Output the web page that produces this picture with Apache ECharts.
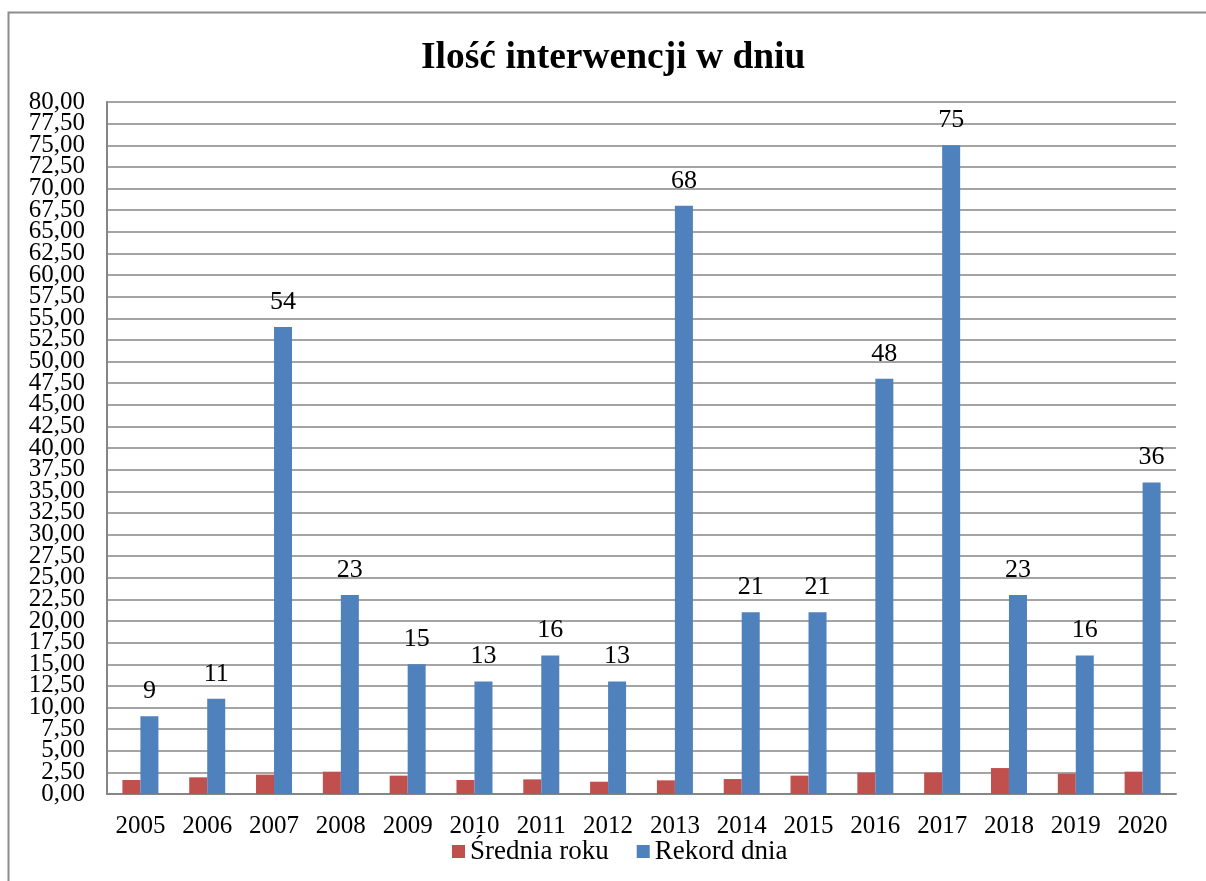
<!DOCTYPE html>
<html><head><meta charset="utf-8">
<script src="https://cdn.jsdelivr.net/npm/echarts@6/dist/echarts.min.js"></script>
<style>html,body{margin:0;padding:0;background:#fff}#c{width:1206px;height:881px}</style>
</head><body><div id="c"></div>
<script>
const years = ['2005','2006','2007','2008','2009','2010','2011','2012','2013','2014','2015','2016','2017','2018','2019','2020'];
const sredniaRoku = [1.62,1.93,2.24,2.58,2.12,1.62,1.69,1.42,1.58,1.73,2.12,2.47,2.47,3.0,2.35,2.58];
const rekordDnia = [9,11,54,23,15,13,16,13,68,21,21,48,75,23,16,36];
const yMin = 0, yMax = 80, yStep = 2.5;
const chart = echarts.init(document.getElementById('c'));
const font = '"Liberation Serif","Times New Roman",serif';
const fmt = v => v.toFixed(2).replace('.', ',');
const gTop = 102, gBottom = 87, gH = 881 - gTop - gBottom;
const half = gH * yStep / (yMax - yMin);
const lbl = {fontFamily:font,fontSize:25,color:'#000',margin:22,showMinLabel:true,showMaxLabel:true,formatter:fmt};
chart.setOption({
  animation:false,
  title:{text:'Ilość interwencji w dniu',left:416,top:34,textStyle:{fontFamily:font,fontSize:37.5,fontWeight:'bold',color:'#000'}},
  graphic:[{type:'rect',shape:{x:8.5,y:12.5,width:1210,height:880},style:{fill:'none',stroke:'#8c8c8c',lineWidth:2},silent:true}],
  legend:{bottom:11,left:447,itemWidth:13,itemHeight:13,itemGap:28,icon:'rect',
    textStyle:{fontFamily:font,fontSize:27,color:'#000'},data:['Średnia roku','Rekord dnia']},
  grid:[{left:107,right:30,top:gTop,bottom:gBottom},
        {left:107,right:30,top:gTop+half,bottom:gBottom+half}],
  xAxis:[{type:'category',data:years,gridIndex:0,
    axisLine:{lineStyle:{color:'#868686',width:2}},axisTick:{show:false},
    axisLabel:{fontFamily:font,fontSize:25,color:'#000',margin:20,interval:0},
    splitLine:{show:false}},
    {type:'category',data:years,gridIndex:1,show:false}],
  yAxis:[{type:'value',gridIndex:0,min:yMin,max:yMax,interval:yStep,
    axisLine:{show:true,lineStyle:{color:'#868686',width:2}},axisTick:{show:false},
    axisLabel:{show:false},
    splitLine:{show:true,lineStyle:{color:'#868686',width:1.5}}},
    {type:'value',gridIndex:0,min:yMin,max:yMax,interval:yStep*2,position:'left',
    axisLine:{show:false},axisTick:{show:false},splitLine:{show:false},axisLabel:lbl},
    {type:'value',gridIndex:1,min:yMin+yStep,max:yMax-yStep,interval:yStep*2,position:'left',
    axisLine:{show:false},axisTick:{show:false},splitLine:{show:false},axisLabel:lbl}],
  series:[
    {name:'Średnia roku',type:'bar',data:sredniaRoku,barWidth:18,barGap:'0%',itemStyle:{color:'#c0504d'}},
    {name:'Rekord dnia',type:'bar',data:rekordDnia,barWidth:18,itemStyle:{color:'#4f81bd'},
     label:{show:true,position:'top',distance:12,fontFamily:font,fontSize:26,color:'#000'}}
  ]
});
</script></body></html>
